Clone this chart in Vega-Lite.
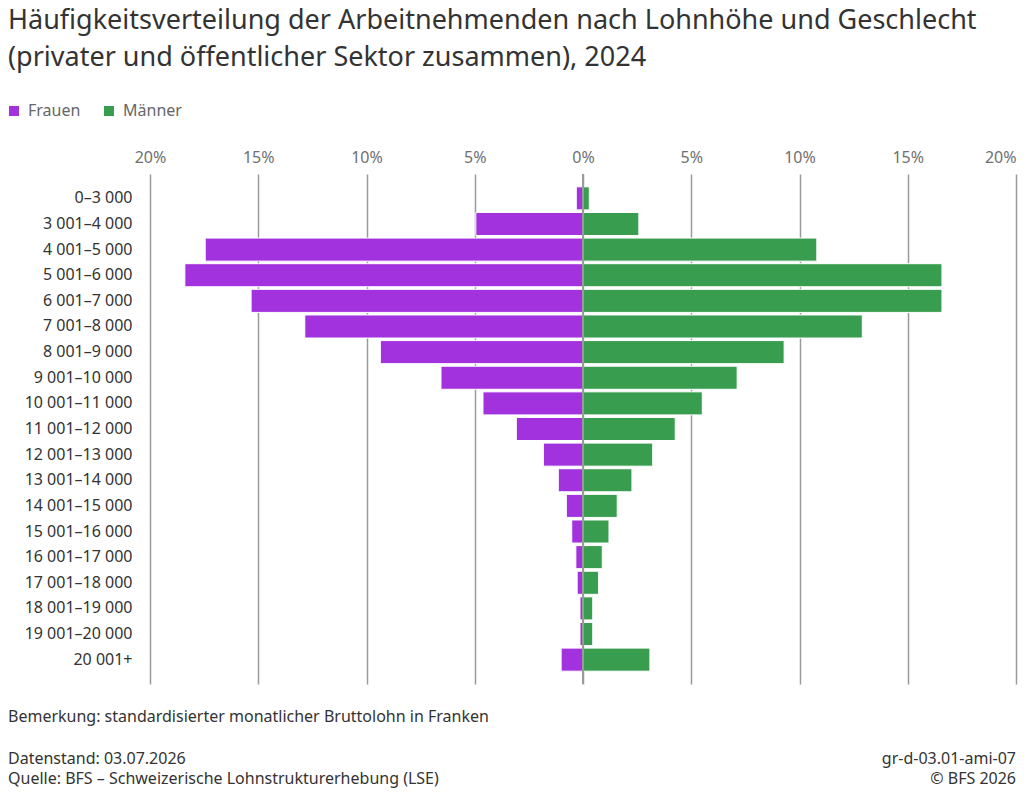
{
  "$schema": "https://vega.github.io/schema/vega-lite/v6.json",
  "width": 866,
  "height": 510,
  "autosize": {"type": "none"},
  "padding": {"left": 150, "top": 174, "right": 8, "bottom": 116},
  "background": "white",
  "config": {
    "font": "Noto Sans",
    "view": {"stroke": null}
  },
  "title": {
    "text": ["Häufigkeitsverteilung der Arbeitnehmenden nach Lohnhöhe und Geschlecht", "(privater und öffentlicher Sektor zusammen), 2024"],
    "anchor": "start",
    "frame": "group",
    "dx": -142,
    "offset": 10,
    "baseline": "alphabetic",
    "fontSize": 27,
    "lineHeight": 37,
    "fontWeight": "normal",
    "color": "#333333",
    "font": "Noto Sans"
  },
  "data": {
    "values": [
      {"Lohnklasse": "0–3 000", "Geschlecht": "Frauen", "Anteil": 0.31},
      {"Lohnklasse": "0–3 000", "Geschlecht": "Männer", "Anteil": 0.29},
      {"Lohnklasse": "3 001–4 000", "Geschlecht": "Frauen", "Anteil": 4.95},
      {"Lohnklasse": "3 001–4 000", "Geschlecht": "Männer", "Anteil": 2.58},
      {"Lohnklasse": "4 001–5 000", "Geschlecht": "Frauen", "Anteil": 17.45},
      {"Lohnklasse": "4 001–5 000", "Geschlecht": "Männer", "Anteil": 10.8},
      {"Lohnklasse": "5 001–6 000", "Geschlecht": "Frauen", "Anteil": 18.39},
      {"Lohnklasse": "5 001–6 000", "Geschlecht": "Männer", "Anteil": 16.58},
      {"Lohnklasse": "6 001–7 000", "Geschlecht": "Frauen", "Anteil": 15.33},
      {"Lohnklasse": "6 001–7 000", "Geschlecht": "Männer", "Anteil": 16.58},
      {"Lohnklasse": "7 001–8 000", "Geschlecht": "Frauen", "Anteil": 12.85},
      {"Lohnklasse": "7 001–8 000", "Geschlecht": "Männer", "Anteil": 12.9},
      {"Lohnklasse": "8 001–9 000", "Geschlecht": "Frauen", "Anteil": 9.36},
      {"Lohnklasse": "8 001–9 000", "Geschlecht": "Männer", "Anteil": 9.29},
      {"Lohnklasse": "9 001–10 000", "Geschlecht": "Frauen", "Anteil": 6.56},
      {"Lohnklasse": "9 001–10 000", "Geschlecht": "Männer", "Anteil": 7.12},
      {"Lohnklasse": "10 001–11 000", "Geschlecht": "Frauen", "Anteil": 4.62},
      {"Lohnklasse": "10 001–11 000", "Geschlecht": "Männer", "Anteil": 5.51},
      {"Lohnklasse": "11 001–12 000", "Geschlecht": "Frauen", "Anteil": 3.08},
      {"Lohnklasse": "11 001–12 000", "Geschlecht": "Männer", "Anteil": 4.26},
      {"Lohnklasse": "12 001–13 000", "Geschlecht": "Frauen", "Anteil": 1.83},
      {"Lohnklasse": "12 001–13 000", "Geschlecht": "Männer", "Anteil": 3.22},
      {"Lohnklasse": "13 001–14 000", "Geschlecht": "Frauen", "Anteil": 1.14},
      {"Lohnklasse": "13 001–14 000", "Geschlecht": "Männer", "Anteil": 2.26},
      {"Lohnklasse": "14 001–15 000", "Geschlecht": "Frauen", "Anteil": 0.77},
      {"Lohnklasse": "14 001–15 000", "Geschlecht": "Männer", "Anteil": 1.58},
      {"Lohnklasse": "15 001–16 000", "Geschlecht": "Frauen", "Anteil": 0.52},
      {"Lohnklasse": "15 001–16 000", "Geschlecht": "Männer", "Anteil": 1.2},
      {"Lohnklasse": "16 001–17 000", "Geschlecht": "Frauen", "Anteil": 0.33},
      {"Lohnklasse": "16 001–17 000", "Geschlecht": "Männer", "Anteil": 0.89},
      {"Lohnklasse": "17 001–18 000", "Geschlecht": "Frauen", "Anteil": 0.27},
      {"Lohnklasse": "17 001–18 000", "Geschlecht": "Männer", "Anteil": 0.72},
      {"Lohnklasse": "18 001–19 000", "Geschlecht": "Frauen", "Anteil": 0.14},
      {"Lohnklasse": "18 001–19 000", "Geschlecht": "Männer", "Anteil": 0.45},
      {"Lohnklasse": "19 001–20 000", "Geschlecht": "Frauen", "Anteil": 0.14},
      {"Lohnklasse": "19 001–20 000", "Geschlecht": "Männer", "Anteil": 0.45},
      {"Lohnklasse": "20 001+", "Geschlecht": "Frauen", "Anteil": 1.01},
      {"Lohnklasse": "20 001+", "Geschlecht": "Männer", "Anteil": 3.09}
    ]
  },
  "layer": [
    {
      "transform": [
        {"calculate": "datum.Geschlecht === 'Frauen' ? -datum.Anteil : datum.Anteil", "as": "Seite"}
      ],
      "mark": {"type": "bar", "stroke": "white", "strokeWidth": 1},
      "encoding": {
        "y": {
          "field": "Lohnklasse",
          "type": "nominal",
          "sort": null,
          "scale": {"paddingInner": 0.1, "paddingOuter": 0.5},
          "axis": {
            "title": null,
            "domain": false,
            "ticks": false,
            "labelPadding": 18,
            "labelFontSize": 16,
            "labelColor": "#333333",
            "labelFont": "Noto Sans"
          }
        },
        "x": {
          "field": "Seite",
          "type": "quantitative",
          "scale": {"domain": [-20, 20], "nice": false},
          "axis": {
            "orient": "top",
            "title": null,
            "values": [-20, -15, -10, -5, 0, 5, 10, 15, 20],
            "labelExpr": "abs(datum.value) + '%'",
            "labelFlush": false,
            "labelAlign": {"condition": {"test": "datum.value >= 20", "value": "right"}, "value": "center"},
            "domain": false,
            "ticks": false,
            "grid": true,
            "gridColor": "#9a9a9a",
            "gridWidth": 1.5,
            "labelPadding": 9,
            "labelFontSize": 16,
            "labelColor": "#707070",
            "labelFont": "Noto Sans"
          }
        },
        "color": {
          "field": "Geschlecht",
          "type": "nominal",
          "scale": {"domain": ["Frauen", "Männer"], "range": ["#a232dd", "#399d4f"]},
          "legend": {
            "title": null,
            "orient": "none",
            "direction": "horizontal",
            "legendX": -144,
            "legendY": -71,
            "symbolType": "square",
            "symbolSize": 100,
            "symbolStrokeWidth": 0,
            "labelFontSize": 16,
            "labelColor": "#666666",
            "labelFont": "Noto Sans",
            "labelOffset": 6,
            "columnPadding": 20
          }
        }
      }
    },
    {
      "mark": {"type": "rule", "color": "#9a9a9a", "strokeWidth": 1.5},
      "encoding": {"x": {"datum": 0}}
    },
    {
      "data": {"values": [{"Text": "Bemerkung: standardisierter monatlicher Bruttolohn in Franken"}]},
      "mark": {"type": "text", "x": -142, "y": 548, "align": "left", "baseline": "alphabetic", "fontSize": 16, "color": "#333333", "font": "Noto Sans"},
      "encoding": {"text": {"field": "Text"}}
    },
    {
      "data": {"values": [{"Text": "Datenstand: 03.07.2026"}]},
      "mark": {"type": "text", "x": -142, "y": 590, "align": "left", "baseline": "alphabetic", "fontSize": 16, "color": "#333333", "font": "Noto Sans"},
      "encoding": {"text": {"field": "Text"}}
    },
    {
      "data": {"values": [{"Text": "Quelle: BFS – Schweizerische Lohnstrukturerhebung (LSE)"}]},
      "mark": {"type": "text", "x": -142, "y": 610, "align": "left", "baseline": "alphabetic", "fontSize": 16, "color": "#333333", "font": "Noto Sans"},
      "encoding": {"text": {"field": "Text"}}
    },
    {
      "data": {"values": [{"Text": "gr-d-03.01-ami-07"}]},
      "mark": {"type": "text", "x": 866, "y": 590, "align": "right", "baseline": "alphabetic", "fontSize": 16, "color": "#333333", "font": "Noto Sans"},
      "encoding": {"text": {"field": "Text"}}
    },
    {
      "data": {"values": [{"Text": "© BFS 2026"}]},
      "mark": {"type": "text", "x": 866, "y": 610, "align": "right", "baseline": "alphabetic", "fontSize": 16, "color": "#333333", "font": "Noto Sans"},
      "encoding": {"text": {"field": "Text"}}
    }
  ]
}
